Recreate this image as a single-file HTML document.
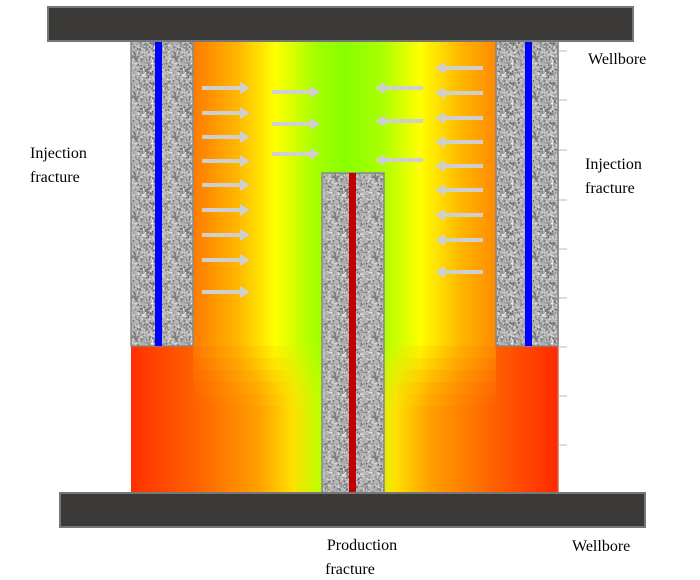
<!DOCTYPE html>
<html><head><style>
html,body{margin:0;padding:0;background:#fff;width:700px;height:580px;overflow:hidden}
</style></head><body>
<svg id="s" width="700" height="580" viewBox="0 0 700 580" xmlns="http://www.w3.org/2000/svg" font-family="Liberation Serif, serif" font-size="16">
<defs>
<pattern id="gp" width="40" height="40" patternUnits="userSpaceOnUse">
<rect width="40" height="40" fill="#b4b4b4"/>
<g id="sp"></g>
</pattern>
<linearGradient id="hb" x1="0" x2="1" y1="0" y2="0">
<stop offset="0" stop-color="#ff3000"/>
<stop offset="0.15" stop-color="#ff6000"/>
<stop offset="0.3" stop-color="#ffa000"/>
<stop offset="0.38" stop-color="#ffe000"/>
<stop offset="0.44" stop-color="#c0ff00"/>
<stop offset="0.5" stop-color="#60ff00"/>
<stop offset="0.56" stop-color="#c0ff00"/>
<stop offset="0.62" stop-color="#ffe000"/>
<stop offset="0.7" stop-color="#ffa000"/>
<stop offset="0.85" stop-color="#ff6000"/>
<stop offset="1" stop-color="#ff2a00"/>
</linearGradient>
<linearGradient id="ht" x1="0" x2="1" y1="0" y2="0">
<stop offset="0" stop-color="#ff7a00"/>
<stop offset="0.15" stop-color="#ffb800"/>
<stop offset="0.27" stop-color="#ffff00"/>
<stop offset="0.4" stop-color="#a8ff00"/>
<stop offset="0.5" stop-color="#88ff00"/>
<stop offset="0.62" stop-color="#a8ff00"/>
<stop offset="0.75" stop-color="#ffff00"/>
<stop offset="0.88" stop-color="#ffb800"/>
<stop offset="1" stop-color="#ff8a00"/>
</linearGradient>
<radialGradient id="gt" cx="0.5" cy="0" r="0.5">
<stop offset="0" stop-color="#10ff00" stop-opacity="1"/>
<stop offset="1" stop-color="#88ff00" stop-opacity="0"/>
</radialGradient>
<clipPath id="fc"><rect x="131" y="41" width="427" height="452"/></clipPath>
<g id="ar"><rect x="0" y="-2" width="38" height="4"/><polygon points="38,-6 48,0 38,6"/></g>
</defs>
<g clip-path="url(#fc)">
<rect x="131" y="41" width="427" height="452" fill="url(#hb)"/>
<g fill="url(#ht)">
<rect x="193" y="41" width="303" height="305"/>
<rect x="193" y="346" width="303" height="12" opacity="0.8"/>
<rect x="193" y="358" width="303" height="12" opacity="0.6"/>
<rect x="193" y="370" width="303" height="12" opacity="0.4"/>
<rect x="193" y="382" width="303" height="12" opacity="0.22"/>
<rect x="193" y="394" width="303" height="12" opacity="0.1"/>
</g>
<ellipse cx="345" cy="41" rx="110" ry="80" fill="url(#gt)"/>
</g>
<line x1="558" y1="41" x2="558" y2="493" stroke="#e06040" stroke-width="1.5"/>
<g stroke="#bbb" stroke-width="1">
<line x1="558" y1="51" x2="567" y2="51"/><line x1="558" y1="100" x2="567" y2="100"/><line x1="558" y1="150" x2="567" y2="150"/><line x1="558" y1="200" x2="567" y2="200"/><line x1="558" y1="249" x2="567" y2="249"/><line x1="558" y1="298" x2="567" y2="298"/><line x1="558" y1="347" x2="567" y2="347"/><line x1="558" y1="396" x2="567" y2="396"/><line x1="558" y1="445" x2="567" y2="445"/>
</g>
<g stroke="#888" stroke-width="1.5" fill="url(#gp)">
<rect x="131" y="41" width="62" height="305"/>
<rect x="496" y="41" width="62" height="305"/>
<rect x="322" y="173" width="62" height="320"/>
</g>
<rect x="155" y="41" width="7" height="305" fill="#0000ff"/>
<rect x="525" y="41" width="7" height="305" fill="#0000ff"/>
<rect x="349" y="173" width="7" height="320" fill="#c00000"/>
<rect x="48" y="7" width="585" height="34" fill="#3b3a38" stroke="#777" stroke-width="2"/>
<rect x="60" y="493" width="585" height="34" fill="#3b3a38" stroke="#777" stroke-width="2"/>
<g fill="#cfcfcf" stroke="none">
<use href="#ar" x="202" y="88"/><use href="#ar" x="202" y="113"/><use href="#ar" x="202" y="137"/><use href="#ar" x="202" y="161"/><use href="#ar" x="202" y="185"/><use href="#ar" x="202" y="210"/><use href="#ar" x="202" y="235"/><use href="#ar" x="202" y="260"/><use href="#ar" x="202" y="292"/>
<use href="#ar" x="272" y="92"/><use href="#ar" x="272" y="124"/><use href="#ar" x="272" y="154"/>
<use href="#ar" transform="translate(423,88) scale(-1,1)"/><use href="#ar" transform="translate(423,121) scale(-1,1)"/><use href="#ar" transform="translate(423,160) scale(-1,1)"/>
<use href="#ar" transform="translate(483,68) scale(-1,1)"/><use href="#ar" transform="translate(483,93) scale(-1,1)"/><use href="#ar" transform="translate(483,118) scale(-1,1)"/><use href="#ar" transform="translate(483,142) scale(-1,1)"/><use href="#ar" transform="translate(483,166) scale(-1,1)"/><use href="#ar" transform="translate(483,190) scale(-1,1)"/><use href="#ar" transform="translate(483,215) scale(-1,1)"/><use href="#ar" transform="translate(483,240) scale(-1,1)"/><use href="#ar" transform="translate(483,272) scale(-1,1)"/>
</g>
<g fill="#000">
<text x="588" y="64">Wellbore</text>
<text x="30" y="158">Injection</text><text x="30" y="182">fracture</text>
<text x="585" y="169">Injection</text><text x="585" y="193">fracture</text>
<text x="362" y="550" text-anchor="middle">Production</text><text x="350" y="574" text-anchor="middle">fracture</text>
<text x="572" y="551">Wellbore</text>
</g>
</svg>
<script>
(function(){
var g=document.getElementById('sp'),s=7;
function r(){s=(s*16807)%2147483647;return s/2147483647;}
var h='';
for(var i=0;i<700;i++){
 var x=(r()*40).toFixed(1),y=(r()*40).toFixed(1),v=Math.floor(90+r()*150);
 h+='<rect x="'+x+'" y="'+y+'" width="1.5" height="1.5" fill="rgb('+v+','+v+','+v+')"/>';
}
g.innerHTML=h;
})();
</script>
</body></html>
